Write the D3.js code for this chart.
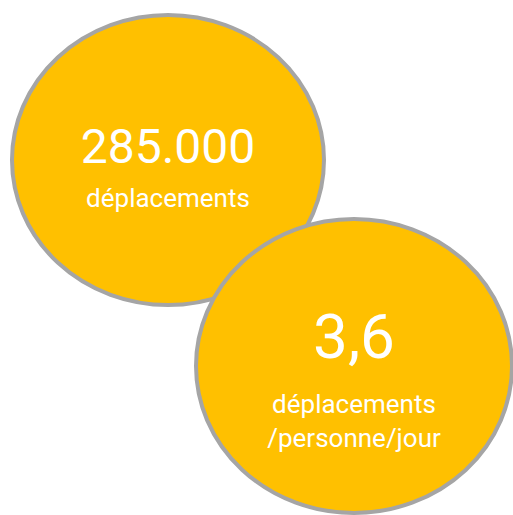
<!DOCTYPE html>
<html>
<head>
<meta charset="utf-8">
<script src="https://cdn.jsdelivr.net/npm/d3@7"></script>
<style>
    body { margin: 0; background: #fff; }
    svg { display: block; }
</style>
</head>
<body>
<div id="chart"></div>
<script>
// Data
var keys = ["trips", "tripsPerPerson"];
var values = ["285.000", "3,6"];
var captions = [["déplacements"], ["déplacements", "/personne/jour"]];

var width = 513, height = 515;

var style = {
    fill: "#FFC000",
    stroke: "#A5A5A5",
    strokeWidth: 4,
    font: "Roboto, 'Open Sans', sans-serif",
    captionSize: 26,
    lineHeight: 34
};

// bubbles step down to the right
var x = d3.scalePoint().domain(keys).range([168, 354]);
var y = d3.scalePoint().domain(keys).range([160, 366]);
var rx = d3.scaleOrdinal().domain(keys).range([156, 158]);
var ry = d3.scaleOrdinal().domain(keys).range([145, 147]);
var valueSize = d3.scaleOrdinal().domain(keys).range([48, 62]);
var valueDy = d3.scaleOrdinal().domain(keys).range([3, -8]);
var captionDy = d3.scaleOrdinal().domain(keys).range([44, 55]);

var svg = d3.select("#chart")
    .append("svg")
    .attr("width", width)
    .attr("height", height);

var bubble = svg.selectAll("g.bubble")
    .data(keys)
    .enter()
    .append("g")
    .attr("class", "bubble")
    .attr("transform", function(d) { return "translate(" + x(d) + "," + y(d) + ")"; });

bubble.append("ellipse")
    .attr("rx", function(d) { return rx(d); })
    .attr("ry", function(d) { return ry(d); })
    .attr("fill", style.fill)
    .attr("stroke", style.stroke)
    .attr("stroke-width", style.strokeWidth);

bubble.append("text")
    .attr("text-anchor", "middle")
    .attr("y", function(d) { return valueDy(d); })
    .attr("fill", "#fff")
    .style("font-family", style.font)
    .style("font-size", function(d) { return valueSize(d) + "px"; })
    .text(function(d, i) { return values[i]; });

bubble.each(function(d, i) {
    d3.select(this).selectAll("text.caption")
        .data(captions[i])
        .enter()
        .append("text")
        .attr("class", "caption")
        .attr("text-anchor", "middle")
        .attr("y", function(c, j) { return valueDy(d) + captionDy(d) + j * style.lineHeight; })
        .attr("fill", "#fff")
        .style("font-family", style.font)
        .style("font-size", style.captionSize + "px")
        .text(function(c) { return c; });
});
</script>
</body>
</html>
